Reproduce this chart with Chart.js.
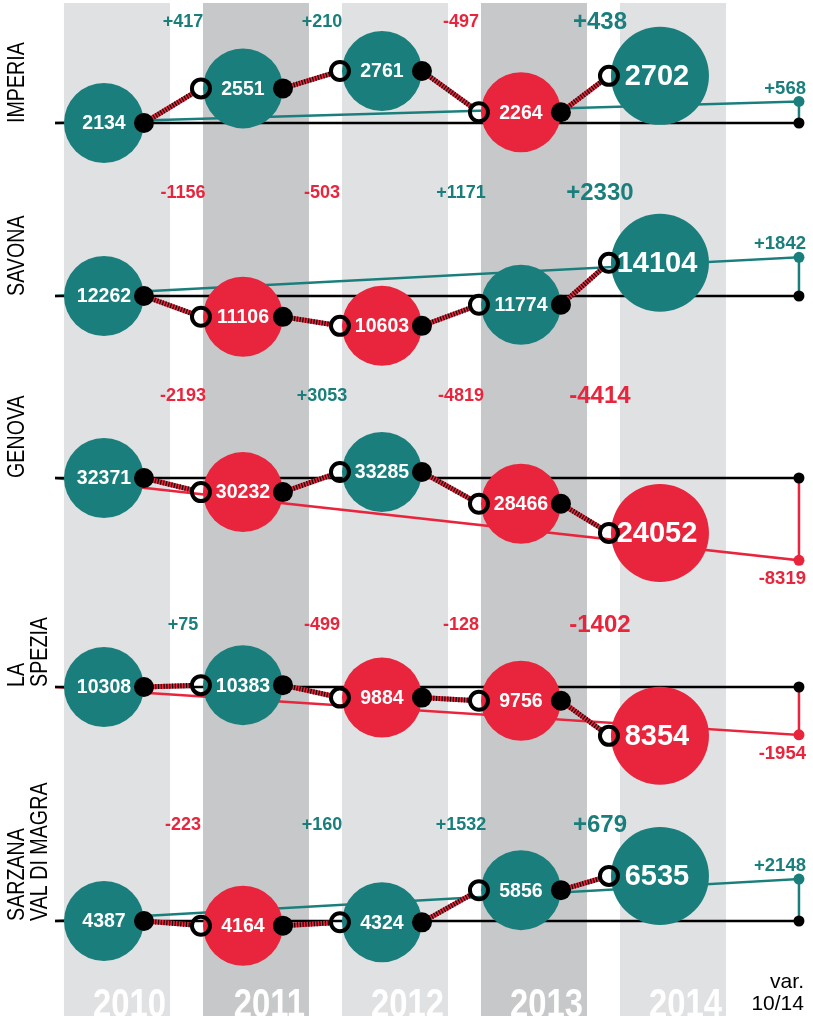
<!DOCTYPE html>
<html>
<head>
<meta charset="utf-8">
<script src="https://cdn.jsdelivr.net/npm/chart.js@4.4.1/dist/chart.umd.min.js"></script>
<style>
  html, body { margin: 0; padding: 0; background: #fff; }
  #wrap { position: relative; width: 813px; height: 1016px; overflow: hidden; }
</style>
</head>
<body>
<div id="wrap"><canvas id="chart" width="813" height="1016"></canvas></div>
<script>
// --- data ---
const years = [2010, 2011, 2012, 2013, 2014];
const provinces = [['IMPERIA'], ['SAVONA'], ['GENOVA'], ['LA', 'SPEZIA'], ['SARZANA', 'VAL DI MAGRA']];

const imperia  = [2134, 2551, 2761, 2264, 2702];
const savona   = [12262, 11106, 10603, 11774, 14104];
const genova   = [32371, 30232, 33285, 28466, 24052];
const laSpezia = [10308, 10383, 9884, 9756, 8354];
const sarzana  = [4387, 4164, 4324, 5856, 6535];

// year on year changes as printed (2011..2014)
const changesImperia  = [417, 210, -497, 438];
const changesSavona   = [-1156, -503, 1171, 2330];
const changesGenova   = [-2193, 3053, -4819, -4414];
const changesLaSpezia = [75, -499, -128, -1402];
const changesSarzana  = [-223, 160, 1532, 679];

// variation 2010 -> 2014
const variation1014 = [568, 1842, -8319, -1954, 2148];
const varTitle = ['var.', '10/14'];

const series = [imperia, savona, genova, laSpezia, sarzana];
const changes = [changesImperia, changesSavona, changesGenova, changesLaSpezia, changesSarzana];

// --- layout & style ---
const W = 813, H = 1016;
const TEAL = '#1a7f7c';
const RED = '#e8253c';
const rowBase = [123, 296, 478, 687, 921];          // pixel of each row's 2010 line
const rowScale = [0.083, 0.018, 0.0066, 0.025, 0.021]; // px per unit, values
const varScale = [0.038, 0.021, 0.0099, 0.0245, 0.0195]; // px per unit, variation
const changeLabelY = [22, 193, 396, 625, 825];
const LINE_START = 2009.648;
const VAR_X = 2015;
const FONT = '"Liberation Sans", Arial, sans-serif';

const signColor = v => v >= 0 ? TEAL : RED;
const signText = v => (v > 0 ? '+' : '') + v;

// draw text squeezed horizontally (no narrow font installed)
function narrowText(ctx, text, x, y, squeeze) {
    ctx.save();
    ctx.translate(x, y);
    ctx.scale(squeeze, 1);
    ctx.fillText(text, 0, 0);
    ctx.restore();
}

const scales = {
    x: { type: 'linear', display: false, min: 2009.252, max: 2015.101 },
    y: { display: false }
};
const datasets = [];

series.forEach((vals, i) => {
    scales['yv' + i] = {
        type: 'linear', axis: 'y', display: false,
        min: vals[0] - (H - rowBase[i]) / rowScale[i],
        max: vals[0] + rowBase[i] / rowScale[i]
    };
    scales['yd' + i] = {
        type: 'linear', axis: 'y', display: false,
        min: -(H - rowBase[i]) / varScale[i],
        max: rowBase[i] / varScale[i]
    };

    datasets.push({
        type: 'bubble',
        label: provinces[i].join(' '),
        data: years.map((yr, j) => ({ x: yr, y: vals[j] })),
        yAxisID: 'yv' + i,
        radius: ctx => ctx.dataIndex === years.length - 1 ? 49 : 40,
        backgroundColor: ctx => {
            const j = ctx.dataIndex;
            return j === 0 || vals[j] >= vals[j - 1] ? TEAL : RED;
        },
        borderWidth: 0,
        order: 0
    });

    // 2010 reference line
    datasets.push({
        type: 'line',
        data: [{ x: LINE_START, y: vals[0] }, { x: VAR_X, y: vals[0] }],
        yAxisID: 'yv' + i,
        borderColor: '#000',
        borderWidth: 2.5,
        pointRadius: [0, 5.5],
        pointBackgroundColor: '#000',
        pointBorderWidth: 0,
        order: 1
    });

    // 2010 -> 2014 variation line
    const c = signColor(variation1014[i]);
    datasets.push({
        type: 'line',
        data: [{ x: LINE_START, y: 0 }, { x: VAR_X, y: variation1014[i] }, { x: VAR_X, y: 0 }],
        yAxisID: 'yd' + i,
        borderColor: c,
        borderWidth: 2.5,
        pointRadius: [0, 5.5, 0],
        pointBackgroundColor: c,
        pointBorderWidth: 0,
        order: 2
    });
});

const backdrop = {
    id: 'backdrop',
    beforeDatasetsDraw(chart) {
        const { ctx } = chart;
        const xs = chart.scales.x;
        ctx.save();
        years.forEach((yr, j) => {
            const px = xs.getPixelForValue(yr);
            ctx.fillStyle = j % 2 ? '#c7c8ca' : '#e0e1e3';
            ctx.fillRect(px - 40, 3, 106, H - 3);
            ctx.fillStyle = '#fff';
            ctx.font = 'bold 41px ' + FONT;
            ctx.textAlign = 'right';
            ctx.textBaseline = 'alphabetic';
            narrowText(ctx, String(yr), px + 62, 1017, 0.8);
        });
        ctx.restore();
    }
};

function hatch(ctx, x1, y1, x2, y2) {
    ctx.lineCap = 'butt';
    ctx.lineWidth = 5;
    ctx.strokeStyle = RED;
    ctx.beginPath(); ctx.moveTo(x1, y1); ctx.lineTo(x2, y2); ctx.stroke();
    ctx.setLineDash([1.2, 1.6]);
    ctx.strokeStyle = '#140606';
    ctx.beginPath(); ctx.moveTo(x1, y1); ctx.lineTo(x2, y2); ctx.stroke();
    ctx.setLineDash([]);
}

const annotate = {
    id: 'annotate',
    afterDatasetsDraw(chart) {
        const { ctx } = chart;
        const xs = chart.scales.x;
        ctx.save();
        chart.data.datasets.forEach((ds, di) => {
            if (ds.type !== 'bubble') return;
            const i = di / 3;
            const pts = chart.getDatasetMeta(di).data;

            // links between years
            for (let j = 0; j < pts.length - 1; j++) {
                const a = pts[j], b = pts[j + 1];
                const sx = a.x + a.options.radius, sy = a.y;
                const ex = b.x - b.options.radius - 2, ey = b.y;
                const len = Math.hypot(ex - sx, ey - sy);
                const ux = (ex - sx) / len, uy = (ey - sy) / len;
                hatch(ctx, sx, sy, ex - ux * 10, ey - uy * 10);
                ctx.fillStyle = '#000';
                ctx.beginPath(); ctx.arc(sx, sy, 10, 0, Math.PI * 2); ctx.fill();
                ctx.strokeStyle = '#000';
                ctx.lineWidth = 4;
                ctx.beginPath(); ctx.arc(ex, ey, 9, 0, Math.PI * 2); ctx.stroke();
            }

            // values inside circles
            ctx.fillStyle = '#fff';
            ctx.textAlign = 'center';
            ctx.textBaseline = 'middle';
            pts.forEach((p, j) => {
                const last = j === pts.length - 1;
                ctx.font = 'bold ' + (last ? 29 : 19.5) + 'px ' + FONT;
                ctx.fillText(String(series[i][j]), p.x - (last ? 3 : 0), p.y + 1);
            });

            // yearly change labels
            changes[i].forEach((v, j) => {
                const last = j === changes[i].length - 1;
                ctx.fillStyle = signColor(v);
                ctx.font = 'bold ' + (last ? 24 : 18) + 'px ' + FONT;
                ctx.fillText(signText(v), xs.getPixelForValue(years[j + 1]) - 60, changeLabelY[i]);
            });

            // 2010-2014 variation label
            const v = variation1014[i];
            const vy = chart.scales['yd' + i].getPixelForValue(v);
            ctx.fillStyle = signColor(v);
            ctx.font = 'bold 18.5px ' + FONT;
            ctx.textAlign = 'right';
            ctx.fillText(signText(v), xs.getPixelForValue(VAR_X) + 7, v >= 0 ? vy - 13 : vy + 19);

            // province name, rotated
            ctx.fillStyle = '#000';
            ctx.font = '24px ' + FONT;
            ctx.textAlign = 'left';
            const lines = provinces[i];
            ctx.save();
            ctx.translate(17, rowBase[i]);
            ctx.rotate(-Math.PI / 2);
            lines.forEach((t, k) => narrowText(ctx, t, 0, k * 23, 0.82));
            ctx.restore();
        });

        ctx.fillStyle = '#000';
        ctx.font = '21px ' + FONT;
        ctx.textAlign = 'right';
        ctx.textBaseline = 'alphabetic';
        ctx.fillText(varTitle[0], xs.getPixelForValue(VAR_X) + 5, 988);
        ctx.fillText(varTitle[1], xs.getPixelForValue(VAR_X) + 5, 1010);
        ctx.restore();
    }
};

new Chart(document.getElementById('chart'), {
    type: 'bubble',
    data: { datasets },
    options: {
        responsive: false,
        animation: false,
        events: [],
        layout: { padding: 0, autoPadding: false },
        scales,
        plugins: { legend: { display: false }, tooltip: { enabled: false } }
    },
    plugins: [backdrop, annotate]
});
</script>
</body>
</html>
